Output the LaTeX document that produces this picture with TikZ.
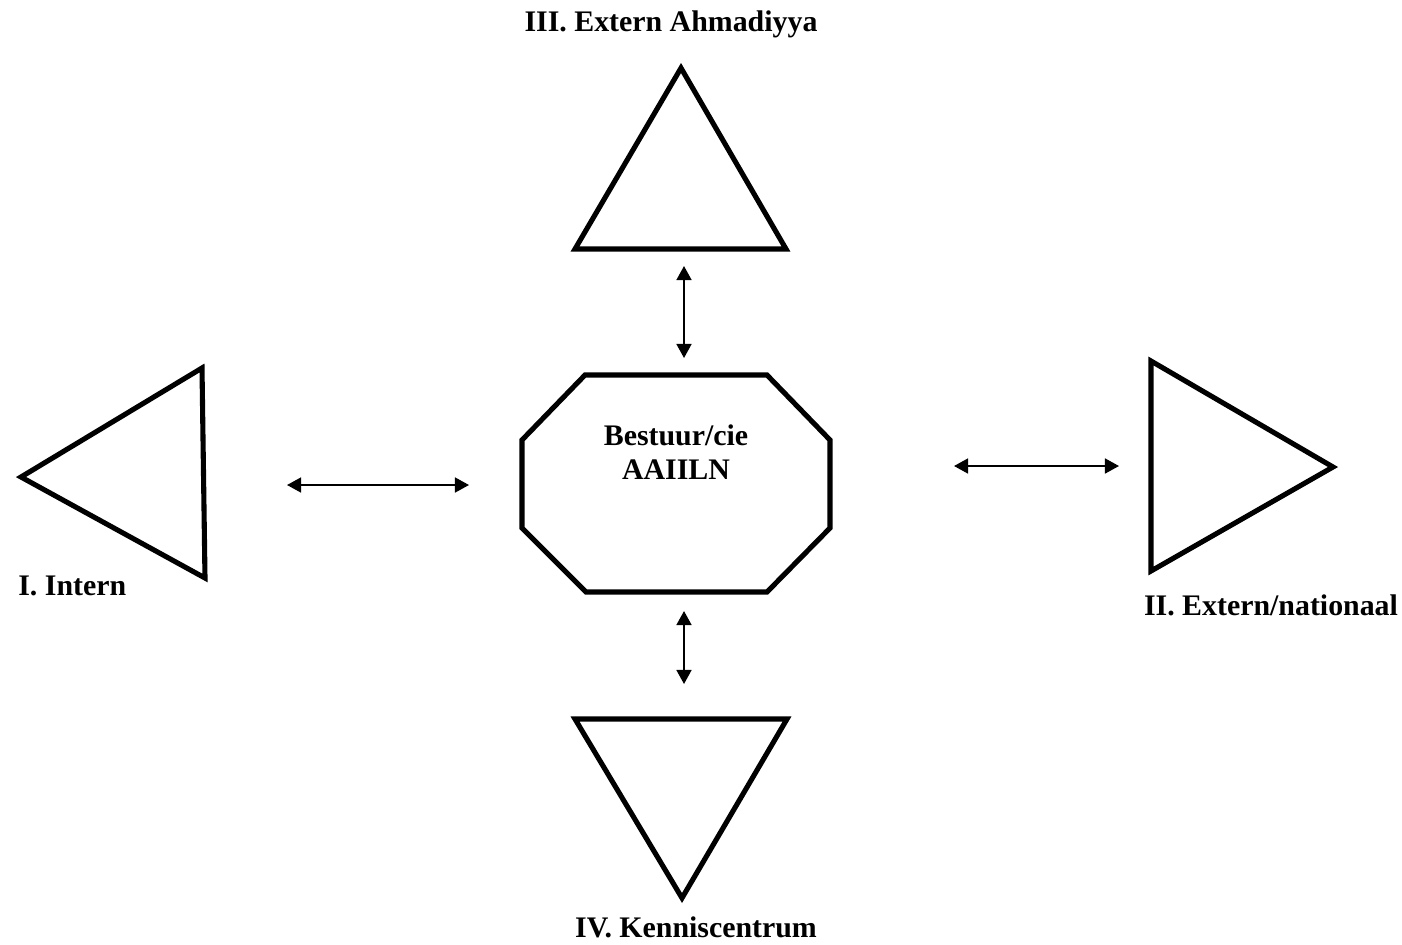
\documentclass[tikz,border=0pt]{standalone}
\usepackage{fontspec}
\setmainfont{Liberation Serif}
\usetikzlibrary{arrows.meta}
\tikzset{
  shapeline/.style={line width=2.9pt,line join=miter},
  dblarrow/.style={line width=1.1pt,{Triangle[length=8pt,width=8.5pt]}-{Triangle[length=8pt,width=8.5pt]}},
  lbl/.style={font=\fontsize{17}{19.5}\selectfont\bfseries,inner sep=0pt,align=center}
}
\begin{document}
\begin{tikzpicture}[x=0.02cm,y=-0.02cm]
        \useasboundingbox (0,0) rectangle (1402,944);

        % centre octagon
        \coordinate (C) at (522,440);
        \draw[shapeline] (C) -- ++(63,-65) -- ++(182,0) -- ++(63,65) -- ++(0,88)
                             -- ++(-63,64) -- ++(-181,0) -- ++(-64,-64) -- cycle;
        \node[lbl] (bestuur) at (676,452) {Bestuur/cie\\AAIILN};

        % top triangle
        \coordinate (T) at (575,249);
        \draw[shapeline] (T) -- ++(106,-181) -- ++(105,181) -- cycle;
        \node[lbl] (ahmadiyya) at (671,24) {III. Extern Ahmadiyya};

        % left triangle
        \coordinate (L) at (21,477);
        \draw[shapeline] (L) -- ++(181,-109) -- ++(3,210) -- cycle;
        \node[lbl,anchor=west] (intern) at (18,586) {I. Intern};

        % right triangle
        \coordinate (R) at (1151,361);
        \draw[shapeline] (R) -- ++(182,106) -- ++(-182,104) -- cycle;
        \node[lbl] (nationaal) at (1271,605) {II. Extern/nationaal};

        % bottom triangle
        \coordinate (B) at (575,719);
        \draw[shapeline] (B) -- ++(212,0) -- ++(-105,179) -- cycle;
        \node[lbl] (kennis) at (696,927) {IV. Kenniscentrum};

        % arrows
        \coordinate (t1) at (684,266);  \coordinate (t2) at (684,358);
        \coordinate (b1) at (684,611);  \coordinate (b2) at (684,684);
        \coordinate (l1) at (287,485);  \coordinate (l2) at (469,485);
        \coordinate (r1) at (954,466);  \coordinate (r2) at (1119,466);
        \draw[dblarrow] (t1) -- (t2);
        \draw[dblarrow] (b1) -- (b2);
        \draw[dblarrow] (l1) -- (l2);
        \draw[dblarrow] (r1) -- (r2);
\end{tikzpicture}
\end{document}
